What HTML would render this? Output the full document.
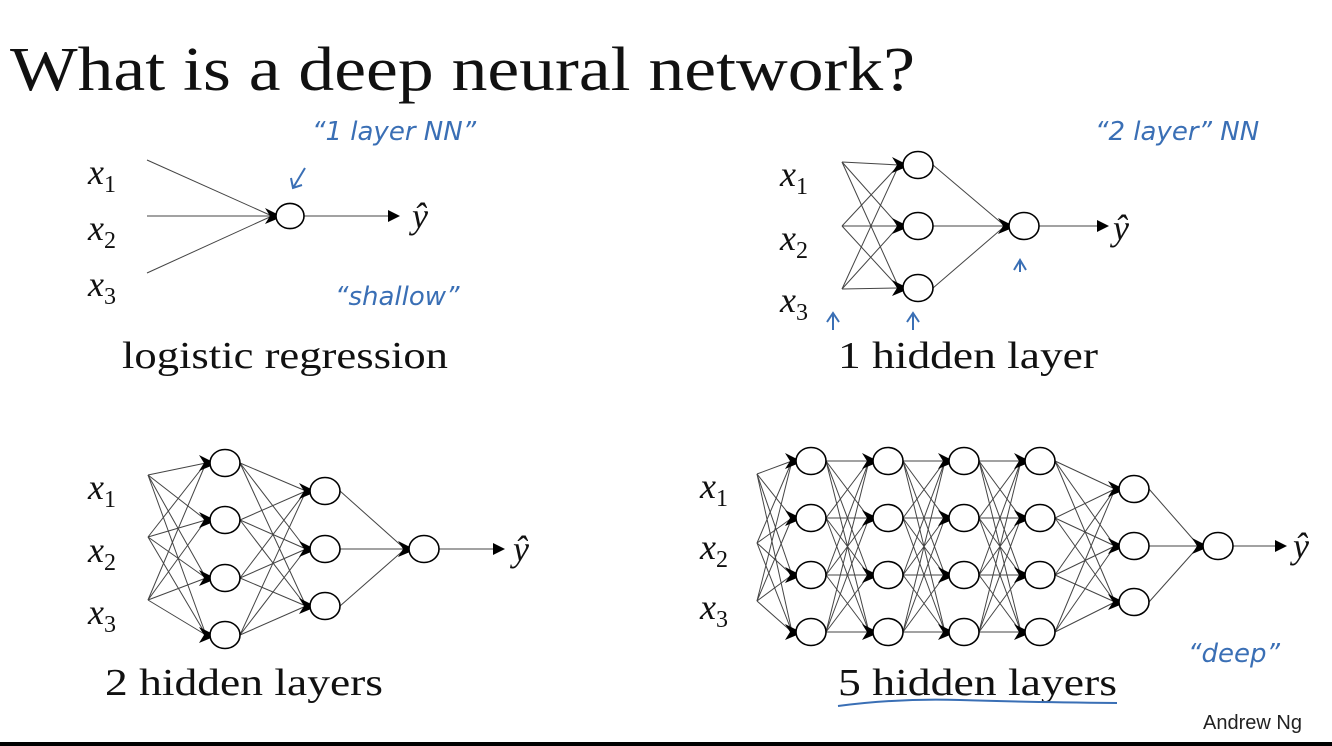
<!DOCTYPE html>
<html><head><meta charset="utf-8"><style>
html,body{margin:0;padding:0;background:#fff;}
body{width:1332px;height:746px;overflow:hidden;position:relative;}
svg{position:absolute;left:0;top:0;}
.serif{font-family:"Liberation Serif",serif;fill:#111;}
.mi{font-family:"Liberation Serif",serif;font-style:italic;fill:#111;font-size:36px;}
.sub{font-style:normal;font-size:24px;}
.hand{font-family:"DejaVu Sans","Liberation Sans",sans-serif;fill:#3a6fb5;font-size:26px;font-style:italic;}
</style></head><body>
<svg id="s" width="1332" height="746" viewBox="0 0 1332 746">
<rect x="0" y="742" width="1332" height="4" fill="#000"/>
<text x="10" y="90" class="serif" font-size="62" textLength="905" lengthAdjust="spacingAndGlyphs">What is a deep neural network?</text>
<text x="1203" y="729" font-family="Liberation Sans,sans-serif" font-size="20" fill="#222">Andrew Ng</text>
<g id="net" stroke="#444" stroke-width="1" fill="none"></g>
<g id="heads" fill="#000"></g>
<g id="nodes" stroke="#000" stroke-width="1.6" fill="#fff"></g>
<text x="88" y="184" class="mi">x<tspan class="sub" dy="8">1</tspan></text>
<text x="88" y="240" class="mi">x<tspan class="sub" dy="8">2</tspan></text>
<text x="88" y="296" class="mi">x<tspan class="sub" dy="8">3</tspan></text>
<text x="412" y="228" class="mi">ŷ</text>
<text x="122" y="368" class="serif" font-size="38" textLength="326" lengthAdjust="spacingAndGlyphs">logistic regression</text>

<text x="780" y="186" class="mi">x<tspan class="sub" dy="8">1</tspan></text>
<text x="780" y="250" class="mi">x<tspan class="sub" dy="8">2</tspan></text>
<text x="780" y="312" class="mi">x<tspan class="sub" dy="8">3</tspan></text>
<text x="1113" y="240" class="mi">ŷ</text>
<text x="838" y="368" class="serif" font-size="38" textLength="260" lengthAdjust="spacingAndGlyphs">1 hidden layer</text>

<text x="88" y="499" class="mi">x<tspan class="sub" dy="8">1</tspan></text>
<text x="88" y="562" class="mi">x<tspan class="sub" dy="8">2</tspan></text>
<text x="88" y="624" class="mi">x<tspan class="sub" dy="8">3</tspan></text>
<text x="513" y="561" class="mi">ŷ</text>
<text x="105" y="695" class="serif" font-size="38" textLength="278" lengthAdjust="spacingAndGlyphs">2 hidden layers</text>

<text x="700" y="498" class="mi">x<tspan class="sub" dy="8">1</tspan></text>
<text x="700" y="559" class="mi">x<tspan class="sub" dy="8">2</tspan></text>
<text x="700" y="619" class="mi">x<tspan class="sub" dy="8">3</tspan></text>
<text x="1293" y="558" class="mi">ŷ</text>
<text x="838" y="695" class="serif" font-size="38" textLength="279" lengthAdjust="spacingAndGlyphs">5 hidden layers</text>
<path d="M838 706 Q900 698 960 700 T1117 703" stroke="#3a6fb5" stroke-width="2" fill="none"/>

<text x="312" y="140" class="hand">“1  layer  NN”</text>
<text x="1095" y="140" class="hand">“2 layer” NN</text>
<text x="335" y="305" class="hand">“shallow”</text>
<text x="1188" y="662" class="hand">“deep”</text>
<g stroke="#3a6fb5" stroke-width="2" fill="none">
<path d="M305 168 L293 188 M291 178 L293 188 L302 185"/>
<path d="M1020 272 L1020 262 M1014 270 L1020 260 L1026 270"/>
<path d="M833 330 L833 315 M827 322 L833 313 L839 322"/>
<path d="M913 330 L913 315 M907 322 L913 313 L919 322"/>
</g>
</svg>
<script>
var NS="http://www.w3.org/2000/svg";
var net=document.getElementById('net'),heads=document.getElementById('heads'),nodes=document.getElementById('nodes');
function line(x1,y1,x2,y2){var l=document.createElementNS(NS,'line');l.setAttribute('x1',x1);l.setAttribute('y1',y1);l.setAttribute('x2',x2);l.setAttribute('y2',y2);net.appendChild(l);}
function node(x,y,r){var e=document.createElementNS(NS,'ellipse');e.setAttribute('cx',x);e.setAttribute('cy',y);e.setAttribute('rx',r);e.setAttribute('ry',r*0.9);nodes.appendChild(e);
 var p=document.createElementNS(NS,'path');var lx=x-r;p.setAttribute('d','M'+(lx-11)+' '+(y-8)+' L'+(lx+1)+' '+(y-2)+' L'+(lx+1)+' '+(y+3)+' L'+(lx-11)+' '+(y+8)+' L'+(lx-6)+' '+y+' Z');heads.appendChild(p);}
function arrow(x1,y,x2){line(x1,y,x2-10,y);var p=document.createElementNS(NS,'path');p.setAttribute('d','M'+(x2-12)+' '+(y-6)+' L'+x2+' '+y+' L'+(x2-12)+' '+(y+6)+' Z');heads.appendChild(p);}
function build(inputs,layers,r,outEnd){
 var prev=inputs;
 layers.forEach(function(L){prev.forEach(function(p){L.forEach(function(q){line(p[0],p[1],q[0]-r-4,q[1]);});});prev=L.map(function(q){return [q[0]+r,q[1]];});});
 layers.forEach(function(L){L.forEach(function(q){node(q[0],q[1],r);});});
 var o=layers[layers.length-1][0];arrow(o[0]+r,o[1],outEnd);
}
function col(x,ys){return ys.map(function(y){return [x,y];});}
build(col(147,[160,216,273]),[col(290,[216])],14,400);
build(col(842,[162,226,289]),[col(918,[165,226,288]),col(1024,[226])],15,1109);
build(col(148,[475,537,600]),[col(225,[463,520,578,635]),col(325,[491,549,606]),col(424,[549])],15,505);
build(col(757,[474,543,601]),[col(811,[461,518,575,632]),col(888,[461,518,575,632]),col(964,[461,518,575,632]),col(1040,[461,518,575,632]),col(1134,[489,546,602]),col(1218,[546])],15,1287);
</script>
</body></html>
